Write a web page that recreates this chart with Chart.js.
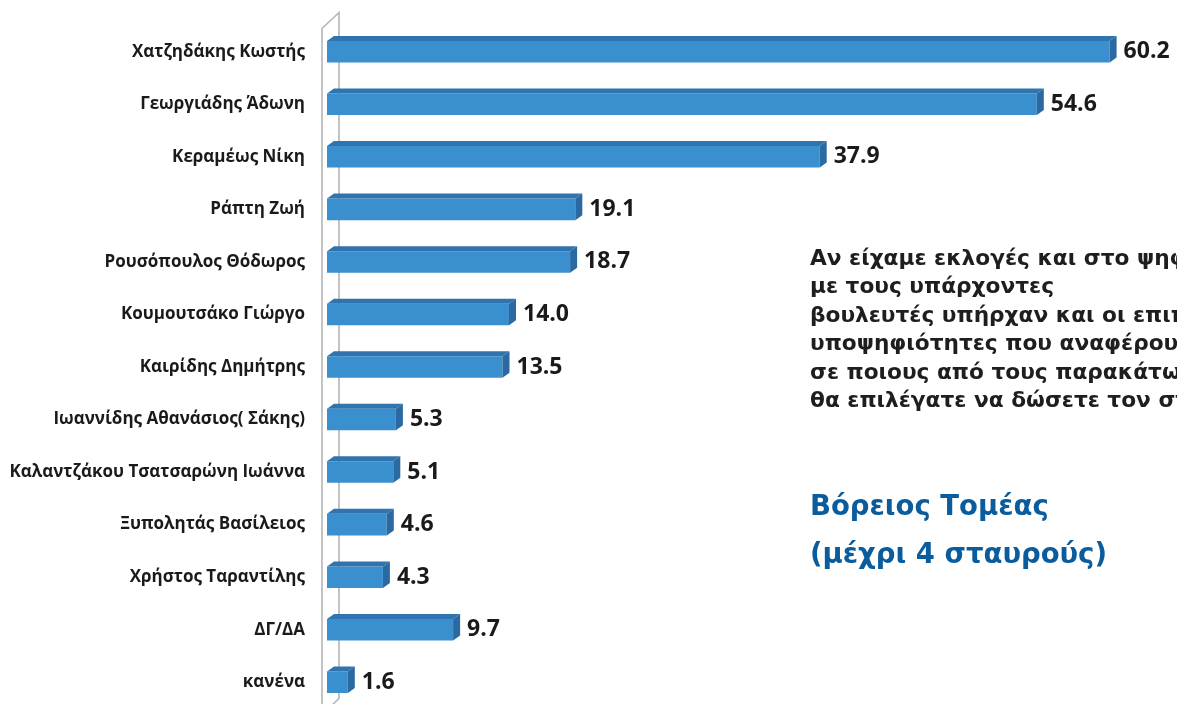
<!DOCTYPE html>
<html><head><meta charset="utf-8">
<script src="https://cdn.jsdelivr.net/npm/chart.js@4"></script>
<style>
html,body{margin:0;padding:0;background:#fff;overflow:hidden;width:1177px;height:704px;}
#wrap{position:absolute;left:0;top:0;width:1177px;height:712px;}
.q{position:absolute;left:810px;top:244px;font:700 21.7px "DejaVu Sans";line-height:28.4px;color:#1e1e1e;white-space:nowrap;}
.t{position:absolute;left:810px;top:481px;font:700 27.5px "DejaVu Sans";line-height:48px;color:#0b5c9d;white-space:nowrap;}
</style></head><body>
<div id="wrap"><canvas id="c" width="1177" height="712"></canvas></div>
<div class="q">Αν είχαμε εκλογές και στο ψηφοδέλτιο της ΝΔ<br>με τους υπάρχοντες<br>βουλευτές υπήρχαν και οι επιπλέον<br>υποψηφιότητες που αναφέρουμε,<br>σε ποιους από τους παρακάτω<br>θα επιλέγατε να δώσετε τον σταυρό σας;</div>
<div class="t">Βόρειος Τομέας<br>(μέχρι 4 σταυρούς)</div>
<script>
const categories = [
  "Χατζηδάκης Κωστής",
  "Γεωργιάδης Άδωνη",
  "Κεραμέως Νίκη",
  "Ράπτη Ζωή",
  "Ρουσόπουλος Θόδωρος",
  "Κουμουτσάκο Γιώργο",
  "Καιρίδης Δημήτρης",
  "Ιωαννίδης Αθανάσιος( Σάκης)",
  "Καλαντζάκου Τσατσαρώνη Ιωάννα",
  "Ξυπολητάς Βασίλειος",
  "Χρήστος Ταραντίλης",
  "ΔΓ/ΔΑ",
  "κανένα"
];
const values = [60.2, 54.6, 37.9, 19.1, 18.7, 14.0, 13.5, 5.3, 5.1, 4.6, 4.3, 9.7, 1.6];
const valueLabels = values.map(v => v.toFixed(1));

const DX = 7, DY = 5;

const bar3d = {
  id: 'bar3d',
  beforeDatasetsDraw(chart) {
    const {ctx, chartArea: a} = chart;
    const fx = a.left - 5, bx = a.left + 12;
    ctx.save();
    ctx.strokeStyle = '#b5b5b5';
    ctx.lineWidth = 1.6;
    ctx.beginPath();
    ctx.moveTo(fx, a.bottom + 20);
    ctx.lineTo(fx, a.top + 3);
    ctx.lineTo(bx, a.top - 13);
    ctx.lineTo(bx, a.bottom - 10);
    ctx.lineTo(fx, a.bottom + 6);
    ctx.stroke();
    ctx.restore();
  },
  afterDatasetsDraw(chart) {
    const {ctx} = chart;
    const meta = chart.getDatasetMeta(0);
    ctx.save();
    meta.data.forEach((el, i) => {
      const {x, y, base, height} = el.getProps(['x', 'y', 'base', 'height'], true);
      const top = y - height / 2, bot = y + height / 2;
      ctx.fillStyle = '#2f74ae';
      ctx.beginPath();
      ctx.moveTo(base, top);
      ctx.lineTo(base + DX, top - DY);
      ctx.lineTo(x + DX, top - DY);
      ctx.lineTo(x, top);
      ctx.closePath();
      ctx.fill();
      ctx.fillStyle = '#2a69a1';
      ctx.beginPath();
      ctx.moveTo(x, top);
      ctx.lineTo(x + DX, top - DY);
      ctx.lineTo(x + DX, bot - DY);
      ctx.lineTo(x, bot);
      ctx.closePath();
      ctx.fill();
      ctx.fillStyle = '#1a1a1a';
      ctx.font = '700 23px "Open Sans"';
      ctx.textAlign = 'left';
      ctx.textBaseline = 'middle';
      ctx.fillText(valueLabels[i], x + DX + 7, y);
    });
    ctx.restore();
  }
};

new Chart(document.getElementById('c'), {
  type: 'bar',
  data: {
    labels: categories,
    datasets: [{
      data: values,
      backgroundColor: '#3a8fcf',
      borderWidth: 0,
      barPercentage: 0.41,
      categoryPercentage: 1
    }]
  },
  options: {
    indexAxis: 'y',
    responsive: false,
    animation: false,
    layout: {padding: {top: 25.5, bottom: 3.5, right: 5, left: 0}},
    plugins: {legend: {display: false}, tooltip: {enabled: false}},
    scales: {
      x: {display: false, min: 0, max: 65},
      y: {
        grid: {display: false, drawTicks: false},
        border: {display: false},
        ticks: {color: '#1a1a1a', font: {family: 'Open Sans', size: 17, weight: '700'}, padding: 22},
        afterFit(s) { s.width = 327; s.paddingTop = 0; s.paddingBottom = 0; }
      }
    }
  },
  plugins: [bar3d]
});
</script>
</body></html>
